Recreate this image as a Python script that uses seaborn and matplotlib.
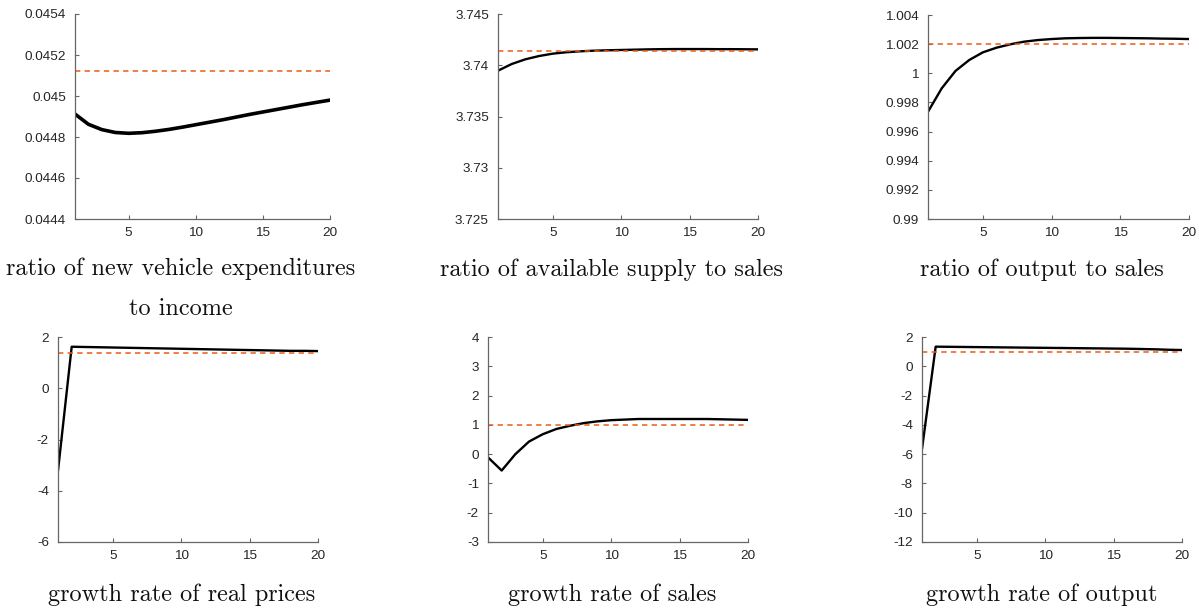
import numpy as np
import matplotlib
matplotlib.use('Agg')
import matplotlib.pyplot as plt
import seaborn as sns

sns.set_theme(style="ticks")
plt.rcParams['font.family'] = ['Liberation Sans', 'DejaVu Sans']
plt.rcParams['axes.unicode_minus'] = False

# periods
periods = list(range(1, 21))

# impulse responses
vehicle_exp_ratio = [0.044912, 0.044862, 0.044836, 0.044822, 0.044818, 0.044821, 0.044828,
                     0.044837, 0.044848, 0.044860, 0.044872, 0.044884, 0.044897, 0.044910,
                     0.044922, 0.044934, 0.044946, 0.044958, 0.044969, 0.044980]
supply_sales_ratio = [3.73947, 3.74012, 3.74058, 3.74090, 3.74113, 3.74127, 3.74136,
                      3.74142, 3.74146, 3.74149, 3.74152, 3.74155, 3.74157, 3.74158,
                      3.74158, 3.74158, 3.74157, 3.74157, 3.74156, 3.74155]
output_sales_ratio = [0.99736, 0.99897, 1.00016, 1.00091, 1.00144, 1.00176, 1.00199,
                      1.00217, 1.00228, 1.00235, 1.00240, 1.00242, 1.00243, 1.00243,
                      1.00242, 1.00241, 1.00240, 1.00238, 1.00237, 1.00235]
price_growth = [-3.22, 1.62, 1.61, 1.60, 1.59, 1.58, 1.57, 1.56, 1.55, 1.54,
                1.53, 1.52, 1.51, 1.50, 1.49, 1.48, 1.47, 1.46, 1.46, 1.45]
sales_growth = [-0.11, -0.56, 0.00, 0.43, 0.68, 0.86, 0.97, 1.06, 1.12, 1.16,
                1.18, 1.20, 1.20, 1.20, 1.20, 1.20, 1.20, 1.19, 1.18, 1.17]
output_growth = [-5.65, 1.34, 1.33, 1.32, 1.31, 1.30, 1.29, 1.28, 1.27, 1.26,
                 1.25, 1.24, 1.23, 1.22, 1.21, 1.20, 1.18, 1.16, 1.13, 1.11]

# steady states
steady = [0.045124, 3.74142, 1.00201, 1.36, 1.00, 1.00]

titles = ["ratio of new vehicle expenditures\nto income",
          "ratio of available supply to sales",
          "ratio of output to sales",
          "growth rate of real prices",
          "growth rate of sales",
          "growth rate of output"]

y_ticks = [[0.0444, 0.0446, 0.0448, 0.045, 0.0452, 0.0454],
           [3.725, 3.73, 3.735, 3.74, 3.745],
           [0.99, 0.992, 0.994, 0.996, 0.998, 1.0, 1.002, 1.004],
           [-6, -4, -2, 0, 2],
           [-3, -2, -1, 0, 1, 2, 3, 4],
           [-12, -10, -8, -6, -4, -2, 0, 2]]

series = [vehicle_exp_ratio, supply_sales_ratio, output_sales_ratio,
          price_growth, sales_growth, output_growth]

W, H = 1199, 610
# axes boxes in pixels: left, right, top, bottom
boxes = [(75, 330, 14, 219), (498, 758, 14, 219), (928, 1189, 15, 219),
         (58, 318, 337, 542), (488, 748, 337, 542), (922, 1182, 337, 542)]
label_x = [181, 611, 1042, 182, 612, 1042]
label_y = [289, 270, 270, 595, 595, 595]

fig = plt.figure(figsize=(W / 100, H / 100), dpi=100)
fig.patch.set_facecolor('white')

axis_col = '#666666'
text_col = '#262626'

for i in range(6):
    l, r, t, b = boxes[i]
    ax = fig.add_axes([l / W, 1 - b / H, (r - l) / W, (b - t) / H])
    ax.set_facecolor('white')
    lw = 2.6 if i == 0 else 1.7
    sns.lineplot(x=periods, y=series[i], color='black', linewidth=lw, ax=ax)
    ax.axhline(steady[i], color='#EE5A1A', linestyle=(0, (3.5, 2.8)), linewidth=1.1)
    ax.set_xlim(1, 20)
    ax.set_ylim(y_ticks[i][0], y_ticks[i][-1])
    ax.set_xticks([5, 10, 15, 20])
    ax.set_yticks(y_ticks[i])
    ax.yaxis.set_major_formatter(plt.FuncFormatter(lambda v, _: f"{v:g}"))
    ax.tick_params(direction='in', length=3, width=0.8, color=axis_col,
                   labelsize=9.7, labelcolor=text_col)
    ax.tick_params(axis='y', pad=6.5)
    ax.tick_params(axis='x', pad=5.5)
    for side in ['top', 'right']:
        ax.spines[side].set_visible(False)
    for side in ['left', 'bottom']:
        ax.spines[side].set_color(axis_col)
        ax.spines[side].set_linewidth(0.9)

for i in range(6):
    fig.text(label_x[i] / W, 1 - label_y[i] / H, titles[i], family='cmr10',
             fontsize=17.5, color='#111111', ha='center', va='center',
             linespacing=2.05)

plt.savefig('out.png', dpi=100)
